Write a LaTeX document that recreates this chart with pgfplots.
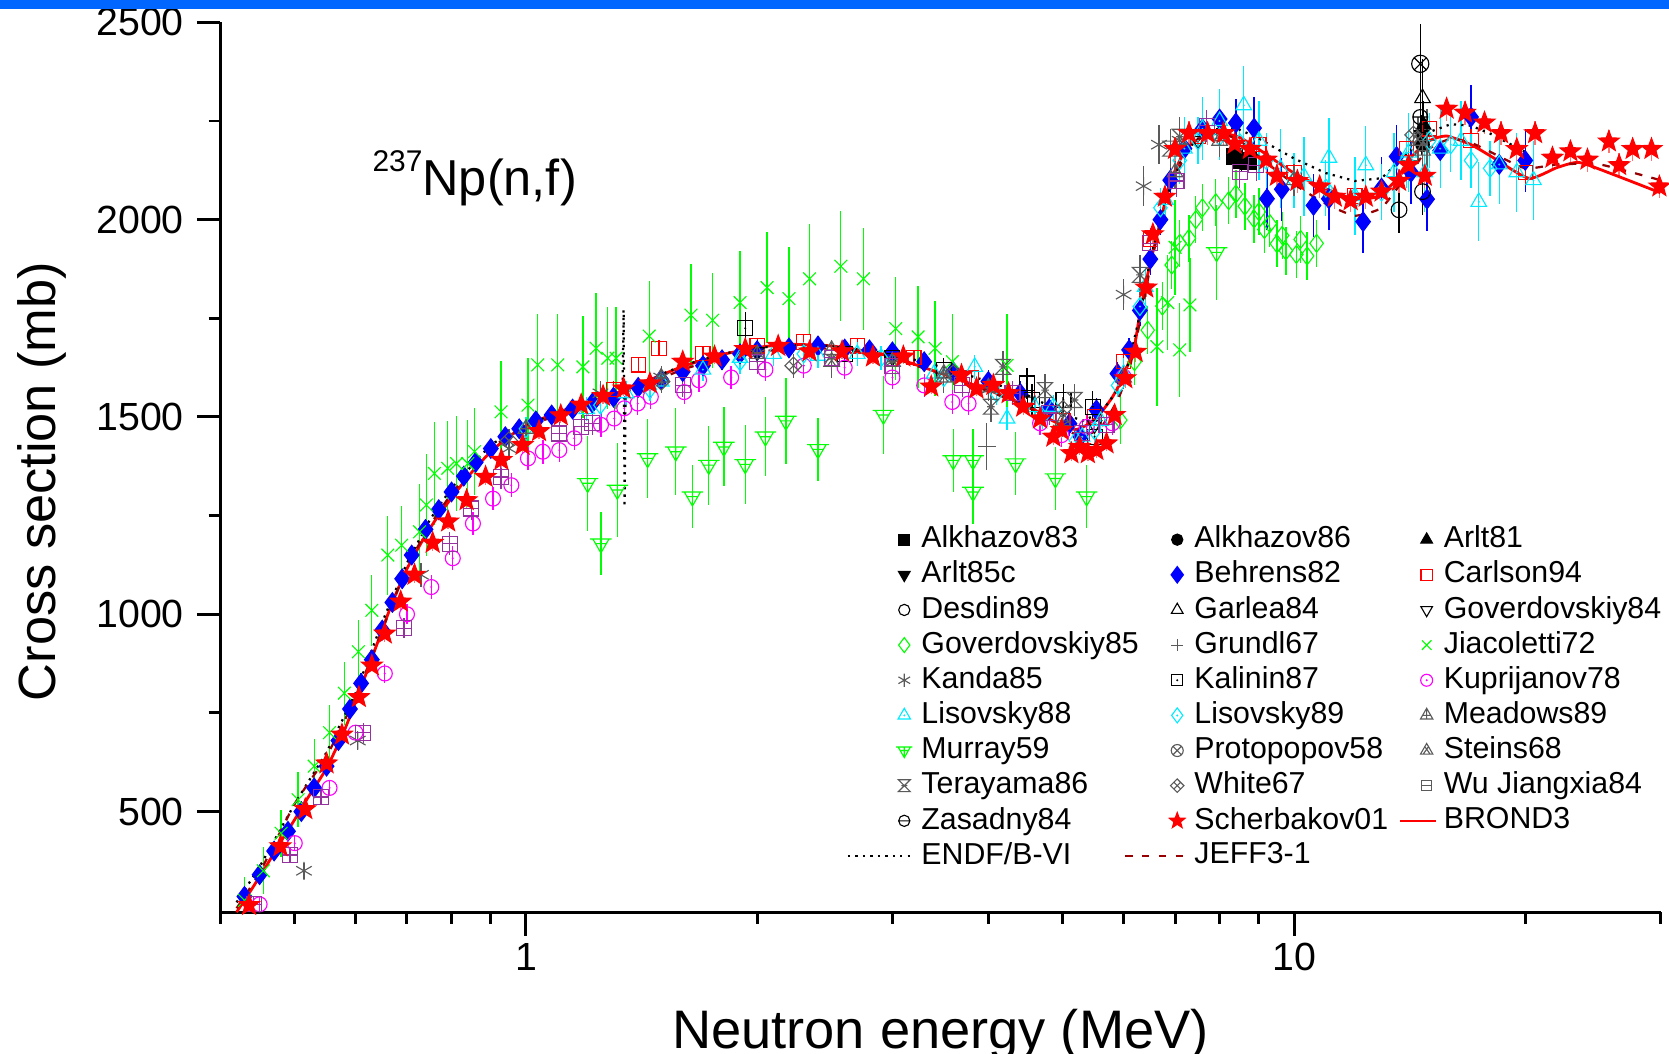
\documentclass[border=0pt]{standalone}
\usepackage{fontspec}
\setmainfont{Liberation Sans}
\usepackage{pgfplots}
\pgfplotsset{compat=1.18}
\usetikzlibrary{plotmarks}

\definecolor{mygreen}{RGB}{0,255,0}
\definecolor{mycyan}{RGB}{0,235,255}
\definecolor{mymag}{RGB}{255,0,255}
\definecolor{myblue}{RGB}{0,0,255}
\definecolor{myred}{RGB}{255,0,0}
\definecolor{mypurple}{RGB}{150,50,160}
\definecolor{mygray}{RGB}{90,90,90}
\definecolor{jeffc}{RGB}{150,0,0}
\definecolor{topblue}{RGB}{0,102,255}

\pgfdeclareplotmark{fstar}{%
  \pgfpathmoveto{\pgfqpointpolar{90}{1\pgfplotmarksize}}%
  \pgfpathlineto{\pgfqpointpolar{126}{0.42\pgfplotmarksize}}%
  \pgfpathlineto{\pgfqpointpolar{162}{1\pgfplotmarksize}}%
  \pgfpathlineto{\pgfqpointpolar{198}{0.42\pgfplotmarksize}}%
  \pgfpathlineto{\pgfqpointpolar{234}{1\pgfplotmarksize}}%
  \pgfpathlineto{\pgfqpointpolar{270}{0.42\pgfplotmarksize}}%
  \pgfpathlineto{\pgfqpointpolar{306}{1\pgfplotmarksize}}%
  \pgfpathlineto{\pgfqpointpolar{342}{0.42\pgfplotmarksize}}%
  \pgfpathlineto{\pgfqpointpolar{18}{1\pgfplotmarksize}}%
  \pgfpathlineto{\pgfqpointpolar{54}{0.42\pgfplotmarksize}}%
  \pgfpathclose\pgfusepathqfillstroke}
\pgfdeclareplotmark{odot}{%
  \pgfpathcircle{\pgfpointorigin}{1\pgfplotmarksize}\pgfusepathqstroke
  \pgfpathcircle{\pgfpointorigin}{0.3pt}\pgfusepathqfill}
\pgfdeclareplotmark{ominus}{%
  \pgfpathcircle{\pgfpointorigin}{1\pgfplotmarksize}%
  \pgfpathmoveto{\pgfqpoint{-1\pgfplotmarksize}{0pt}}\pgfpathlineto{\pgfqpoint{1\pgfplotmarksize}{0pt}}%
  \pgfusepathqstroke}
\pgfdeclareplotmark{sqdot}{%
  \pgfpathrectangle{\pgfpoint{-1\pgfplotmarksize}{-1\pgfplotmarksize}}{\pgfpoint{2\pgfplotmarksize}{2\pgfplotmarksize}}\pgfusepathqstroke
  \pgfpathcircle{\pgfpointorigin}{0.3pt}\pgfusepathqfill}
\pgfdeclareplotmark{sqminus}{%
  \pgfpathrectangle{\pgfpoint{-1\pgfplotmarksize}{-1\pgfplotmarksize}}{\pgfpoint{2\pgfplotmarksize}{2\pgfplotmarksize}}%
  \pgfpathmoveto{\pgfqpoint{-1\pgfplotmarksize}{0pt}}\pgfpathlineto{\pgfqpoint{1\pgfplotmarksize}{0pt}}%
  \pgfusepathqstroke}
\pgfdeclareplotmark{tridot}{%
  \pgfpathmoveto{\pgfqpointpolar{90}{1\pgfplotmarksize}}%
  \pgfpathlineto{\pgfqpointpolar{-30}{1\pgfplotmarksize}}%
  \pgfpathlineto{\pgfqpointpolar{210}{1\pgfplotmarksize}}%
  \pgfpathclose\pgfusepathqstroke
  \pgfpathcircle{\pgfpointorigin}{0.3pt}\pgfusepathqfill}
\pgfdeclareplotmark{dtri}{%
  \pgfpathmoveto{\pgfqpointpolar{270}{1\pgfplotmarksize}}%
  \pgfpathlineto{\pgfqpointpolar{30}{1\pgfplotmarksize}}%
  \pgfpathlineto{\pgfqpointpolar{150}{1\pgfplotmarksize}}%
  \pgfpathclose\pgfusepathqstroke}
\pgfdeclareplotmark{dtri*}{%
  \pgfpathmoveto{\pgfqpointpolar{270}{1\pgfplotmarksize}}%
  \pgfpathlineto{\pgfqpointpolar{30}{1\pgfplotmarksize}}%
  \pgfpathlineto{\pgfqpointpolar{150}{1\pgfplotmarksize}}%
  \pgfpathclose\pgfusepathqfillstroke}
\pgfdeclareplotmark{dtribar}{%
  \pgfpathmoveto{\pgfqpointpolar{270}{1\pgfplotmarksize}}%
  \pgfpathlineto{\pgfqpointpolar{30}{1\pgfplotmarksize}}%
  \pgfpathlineto{\pgfqpointpolar{150}{1\pgfplotmarksize}}%
  \pgfpathclose
  \pgfpathmoveto{\pgfqpoint{-1.15\pgfplotmarksize}{0.5\pgfplotmarksize}}\pgfpathlineto{\pgfqpoint{1.15\pgfplotmarksize}{0.5\pgfplotmarksize}}%
  \pgfpathmoveto{\pgfqpoint{-0.5\pgfplotmarksize}{0pt}}\pgfpathlineto{\pgfqpoint{0.5\pgfplotmarksize}{0pt}}%
  \pgfpathmoveto{\pgfqpoint{0pt}{0.5\pgfplotmarksize}}\pgfpathlineto{\pgfqpoint{0pt}{-1\pgfplotmarksize}}%
  \pgfusepathqstroke}
\pgfdeclareplotmark{diamdot}{%
  \pgfpathmoveto{\pgfqpoint{0pt}{1\pgfplotmarksize}}%
  \pgfpathlineto{\pgfqpoint{0.75\pgfplotmarksize}{0pt}}%
  \pgfpathlineto{\pgfqpoint{0pt}{-1\pgfplotmarksize}}%
  \pgfpathlineto{\pgfqpoint{-0.75\pgfplotmarksize}{0pt}}%
  \pgfpathclose\pgfusepathqstroke
  \pgfpathcircle{\pgfpointorigin}{0.3pt}\pgfusepathqfill}
\pgfdeclareplotmark{triplus}{%
  \pgfpathmoveto{\pgfqpointpolar{90}{1\pgfplotmarksize}}%
  \pgfpathlineto{\pgfqpointpolar{-30}{1\pgfplotmarksize}}%
  \pgfpathlineto{\pgfqpointpolar{210}{1\pgfplotmarksize}}%
  \pgfpathclose
  \pgfpathmoveto{\pgfqpoint{0pt}{1\pgfplotmarksize}}\pgfpathlineto{\pgfqpoint{0pt}{-0.5\pgfplotmarksize}}%
  \pgfpathmoveto{\pgfqpoint{-0.55\pgfplotmarksize}{0pt}}\pgfpathlineto{\pgfqpoint{0.55\pgfplotmarksize}{0pt}}%
  \pgfusepathqstroke}
\pgfdeclareplotmark{trix}{%
  \pgfpathmoveto{\pgfqpointpolar{90}{1\pgfplotmarksize}}%
  \pgfpathlineto{\pgfqpointpolar{-30}{1\pgfplotmarksize}}%
  \pgfpathlineto{\pgfqpointpolar{210}{1\pgfplotmarksize}}%
  \pgfpathclose
  \pgfpathmoveto{\pgfqpoint{-0.45\pgfplotmarksize}{-0.45\pgfplotmarksize}}\pgfpathlineto{\pgfqpoint{0.3\pgfplotmarksize}{0.6\pgfplotmarksize}}%
  \pgfpathmoveto{\pgfqpoint{0.45\pgfplotmarksize}{-0.45\pgfplotmarksize}}\pgfpathlineto{\pgfqpoint{-0.3\pgfplotmarksize}{0.6\pgfplotmarksize}}%
  \pgfusepathqstroke}
\pgfdeclareplotmark{hourglass}{%
  \pgfpathmoveto{\pgfqpoint{-1\pgfplotmarksize}{1\pgfplotmarksize}}%
  \pgfpathlineto{\pgfqpoint{1\pgfplotmarksize}{1\pgfplotmarksize}}%
  \pgfpathlineto{\pgfqpoint{-1\pgfplotmarksize}{-1\pgfplotmarksize}}%
  \pgfpathlineto{\pgfqpoint{1\pgfplotmarksize}{-1\pgfplotmarksize}}%
  \pgfpathclose
  \pgfpathmoveto{\pgfqpoint{-0.5\pgfplotmarksize}{0pt}}\pgfpathlineto{\pgfqpoint{0.5\pgfplotmarksize}{0pt}}%
  \pgfusepathqstroke}
\pgfdeclareplotmark{diamx}{%
  \pgfpathmoveto{\pgfqpoint{0pt}{1\pgfplotmarksize}}%
  \pgfpathlineto{\pgfqpoint{1\pgfplotmarksize}{0pt}}%
  \pgfpathlineto{\pgfqpoint{0pt}{-1\pgfplotmarksize}}%
  \pgfpathlineto{\pgfqpoint{-1\pgfplotmarksize}{0pt}}%
  \pgfpathclose
  \pgfpathmoveto{\pgfqpoint{-0.5\pgfplotmarksize}{-0.5\pgfplotmarksize}}\pgfpathlineto{\pgfqpoint{0.5\pgfplotmarksize}{0.5\pgfplotmarksize}}%
  \pgfpathmoveto{\pgfqpoint{-0.5\pgfplotmarksize}{0.5\pgfplotmarksize}}\pgfpathlineto{\pgfqpoint{0.5\pgfplotmarksize}{-0.5\pgfplotmarksize}}%
  \pgfusepathqstroke}

\pgfplotsset{
  expt/.style={only marks, line width=0.3pt, forget plot,
    error bars/y dir=both, error bars/y explicit, error bars/error mark=none,
    error bars/error bar style={line width=0.35pt}},
  lm/.style={only marks, line width=0.3pt},
  markleg/.style={legend image code/.code={\draw[mark repeat=2,mark phase=2,##1] plot coordinates {(0cm,0cm) (0.13cm,0cm) (0.26cm,0cm)};}},
  brondleg/.style={legend image code/.code={\path (0cm,0cm) (0.26cm,0cm); \draw[##1,overlay] (-0.12cm,0cm) -- (0.22cm,0cm);}},
  endfleg/.style={legend image code/.code={\path (0cm,0cm) (0.26cm,0cm); \draw[##1,overlay] (-0.4cm,0cm) -- (0.22cm,0cm);}},
  jeffleg/.style={legend image code/.code={\path (0cm,0cm) (0.26cm,0cm); \draw[##1,overlay] (-0.36cm,0cm) -- (0.22cm,0cm);}},
}

\begin{document}
\begin{tikzpicture}
\begin{axis}[
  at={(0,0)}, anchor=south west,
  scale only axis, width=135.3mm, height=83.6mm,
  xmode=log, xmin=0.4, xmax=30, ymin=245, ymax=2500,
  axis x line*=bottom, axis y line*=left,
  axis line style={-, line width=0.8pt},
  every tick/.style={black, line width=0.8pt},
  tick align=outside,
  major tick length=2.2mm, minor tick length=1.1mm,
  xtick={1,10}, xticklabels={1,10},
  minor xtick={0.4,0.5,0.6,0.7,0.8,0.9,2,3,4,5,6,7,8,9,20,30},
  ytick={500,1000,1500,2000,2500},
  minor ytick={750,1250,1750,2250},
  tick label style={font=\fontsize{10.5}{12}\selectfont},
  xticklabel style={yshift=0.5mm},
  /pgf/number format/assume math mode=true,
  /pgf/number format/1000 sep={},
  xlabel={Neutron energy (MeV)}, ylabel={Cross section (mb)},
  xlabel style={font=\fontsize{14.5}{16}\selectfont, at={(axis description cs:0.5,-0.1531)}, anchor=base},
  ylabel style={font=\fontsize{14}{16}\selectfont, at={(axis description cs:-0.1146,0.484)}, anchor=base},
  legend columns=3, legend cell align=left,
  markleg,
  legend style={at={(axis description cs:0.464,0.4375)}, anchor=north west, draw=none, fill=none,
    font=\fontsize{8.1}{9}\selectfont, inner sep=0pt, row sep=0.29mm,
    nodes={inner sep=0.6pt, text depth=0.15em},
    /tikz/every even column/.append style={column sep=2mm}},
]

% Alkhazov83
\addplot[black, mark=square*, mark size=2.2pt, expt] table[row sep=\\, y error index=2] {
8.37 2160 30\\ 8.55 2150 30\\ 8.72 2148 30\\};
% Alkhazov86
\addplot[black, mark=*, mark size=1.8pt, expt] table[row sep=\\, y error index=2] {
14.7 2190 40\\};
% Arlt81
\addplot[black, mark=triangle*, mark size=2.2pt, expt] table[row sep=\\, y error index=2] {
14.75 2240 60\\};
% Arlt85c
\addplot[black, mark=dtri*, mark size=2.2pt, expt] table[row sep=\\, y error index=2] {
14.65 2215 50\\};
% Behrens82
\addplot[myblue, mark=diamond*, mark size=2.6pt, expt] table[row sep=\\, y error index=2] {
0.43 285 20\\ 0.45 340 20\\ 0.47 400 20\\ 0.49 450 20\\ 0.51 500 20\\ 0.53 560 20\\
0.55 615 20\\ 0.57 680 20\\ 0.59 760 25\\ 0.61 825 25\\ 0.63 885 25\\ 0.65 960 25\\
0.67 1030 25\\ 0.69 1090 25\\ 0.71 1150 25\\ 0.74 1215 25\\ 0.77 1265 25\\ 0.80 1310 25\\
0.83 1350 25\\ 0.86 1385 25\\ 0.90 1420 25\\ 0.94 1450 25\\ 0.98 1470 25\\ 1.03 1490 25\\
1.08 1505 25\\ 1.15 1520 25\\ 1.22 1535 25\\ 1.30 1550 25\\ 1.40 1575 25\\ 1.50 1595 25\\
1.60 1615 25\\ 1.70 1630 25\\ 1.80 1645 25\\ 1.90 1660 25\\ 2.00 1668 25\\ 2.20 1675 25\\
2.40 1680 25\\ 2.60 1672 25\\ 2.80 1670 25\\ 3.00 1665 25\\ 3.30 1640 25\\ 3.60 1615 25\\
4.00 1590 30\\ 4.40 1560 30\\ 4.80 1520 30\\ 5.10 1483 30\\ 5.27 1450 30\\ 5.53 1518 30\\
5.89 1610 30\\ 6.10 1670 30\\ 6.30 1770 40\\ 6.50 1900 40\\ 6.70 2000 40\\ 6.90 2100 40\\
7.20 2180 50\\ 7.60 2230 50\\ 8.00 2255 50\\ 8.40 2245 60\\ 8.87 2232 80\\ 9.22 2053 80\\
9.64 2077 80\\ 10.6 2036 80\\ 11.1 2053 80\\ 12.3 1995 80\\ 13.0 2080 80\\ 13.6 2160 80\\
14.2 2120 80\\ 14.9 2052 80\\ 15.5 2175 80\\ 17.0 2260 80\\ 18.5 2140 80\\ 20.0 2150 80\\};
% Carlson94
\addplot[myred, mark=square, mark size=1.9pt, expt] table[row sep=\\, y error index=2] {
1.3 1570 20\\ 1.4 1632 20\\ 1.49 1674 20\\ 1.7 1660 20\\ 2.0 1680 20\\ 2.3 1690 20\\
2.7 1680 20\\ 3.2 1650 20\\ 3.8 1600 20\\ 4.5 1550 20\\ 5.0 1490 20\\ 5.5 1500 20\\
6.0 1640 25\\ 6.5 1950 30\\ 7.5 2210 30\\ 9.0 2190 30\\ 10.0 2120 30\\ 12.0 2060 30\\
14.0 2180 30\\ 15.0 2230 30\\ 17.0 2200 30\\ 20.0 2120 30\\};
% Desdin89
\addplot[black, mark=o, mark size=2.1pt, expt] table[row sep=\\, y error index=2] {
13.7 2025 60\\ 14.7 2071 60\\};
% Garlea84
\addplot[black, mark=triangle, mark size=2.4pt, expt] table[row sep=\\, y error index=2] {
14.7 2308 100\\};
% Goverdovskiy84
\addplot[black, mark=dtri, mark size=2.2pt, expt] table[row sep=\\, y error index=2] {
2.0 1665 30\\ 3.0 1650 30\\ 4.5 1540 30\\ 5.5 1480 30\\ 7.5 2200 40\\ 14.7 2210 50\\};
% Goverdovskiy85
\addplot[mygreen, mark=diamond, mark size=2.4pt, expt] table[row sep=\\, y error index=2] {
5.94 1492 60\\ 6.2 1640 60\\ 6.45 1720 60\\ 6.74 1781 60\\ 6.93 1885 60\\ 7.1 1940 60\\
7.3 1953 60\\ 7.45 2000 60\\ 7.6 2030 60\\ 7.91 2043 60\\ 8.22 2048 60\\ 8.4 2065 60\\
8.63 2034 60\\ 8.87 2002 60\\ 9.0 2020 60\\ 9.15 1975 60\\ 9.3 1990 60\\ 9.5 1939 60\\
9.65 1960 60\\ 9.76 1921 60\\ 10.07 1912 60\\ 10.2 1950 60\\ 10.4 1908 60\\ 10.7 1940 60\\};
% Grundl67
\addplot[mygray, mark=+, mark size=2.4pt, expt] table[row sep=\\, y error index=2] {
3.98 1425 60\\ 14.1 2150 80\\ 14.9 2200 80\\};
% Jiacoletti72
\addplot[mygreen, mark=x, mark size=2.4pt, expt] table[row sep=\\, y error index=2] {
0.43 275 60\\ 0.455 350 60\\ 0.48 445 60\\ 0.505 530 70\\ 0.53 615 70\\ 0.555 700 70\\
0.58 800 80\\ 0.605 905 80\\ 0.63 1010 90\\ 0.661 1150 100\\ 0.689 1175 100\\ 0.727 1209 120\\
0.742 1277 130\\ 0.76 1357 130\\ 0.791 1370 120\\ 0.812 1382 120\\ 0.84 1382 110\\ 0.857 1412 110\\
0.928 1513 130\\ 1.006 1530 120\\ 1.036 1632 130\\ 1.1 1632 130\\ 1.186 1627 130\\ 1.234 1674 140\\
1.278 1649 130\\ 1.31 1649 130\\ 1.447 1705 140\\ 1.64 1758 130\\ 1.75 1745 120\\ 1.9 1790 130\\
2.06 1828 140\\ 2.2 1800 130\\ 2.34 1850 140\\ 2.57 1882 140\\ 2.75 1850 130\\ 3.03 1724 130\\
3.24 1703 130\\ 3.41 1674 120\\ 3.59 1640 120\\ 4.23 1631 130\\ 6.63 1678 150\\ 6.85 1790 120\\
7.0 1930 120\\ 7.1 1670 120\\ 7.32 1784 120\\};
% Kanda85
\addplot[mygray, mark=asterisk, mark size=2.4pt, expt] table[row sep=\\, y error index=2] {
0.514 350 20\\ 0.604 680 25\\ 0.73 1100 30\\ 0.95 1420 30\\ 1.25 1560 30\\ 1.5 1600 30\\
2.0 1660 30\\ 2.5 1650 30\\ 3.0 1640 30\\ 4.0 1570 30\\ 5.0 1480 30\\ 6.0 1810 40\\
6.37 2085 50\\ 6.67 2190 50\\ 7.1 2200 50\\ 8.0 2210 50\\};
% Kalinin87
\addplot[black, mark=sqdot, mark size=2.0pt, expt] table[row sep=\\, y error index=2] {
1.93 1725 40\\ 2.6 1660 30\\ 3.0 1650 30\\ 3.5 1620 30\\ 4.49 1585 40\\ 4.56 1543 40\\
5.01 1543 40\\ 5.47 1526 40\\ 5.5 1450 40\\};
% Kuprijanov78
\addplot[mymag, mark=odot, mark size=2.0pt, expt] table[row sep=\\, y error index=2] {
0.45 265 20\\ 0.5 420 20\\ 0.555 560 20\\ 0.6 700 20\\ 0.655 850 25\\ 0.70 1000 25\\
0.753 1069 30\\ 0.803 1142 30\\ 0.853 1230 30\\ 0.906 1293 30\\ 0.957 1327 30\\ 1.006 1395 30\\
1.052 1412 30\\ 1.105 1416 30\\ 1.156 1446 30\\ 1.252 1480 30\\ 1.303 1496 30\\ 1.343 1522 30\\
1.398 1534 30\\ 1.454 1551 30\\ 1.607 1563 30\\ 1.68 1593 30\\ 1.85 1600 30\\ 2.05 1620 30\\
2.3 1630 30\\ 2.6 1625 30\\ 3.0 1600 30\\ 3.3 1580 30\\ 3.59 1538 30\\ 3.77 1534 30\\
4.67 1484 30\\ 4.98 1454 30\\ 5.37 1475 30\\ 5.8 1484 30\\ 6.0 1602 30\\};
% Lisovsky88
\addplot[mycyan, mark=tridot, mark size=2.4pt, expt] table[row sep=\\, y error index=2] {
1.2 1520 30\\ 1.35 1560 30\\ 1.5 1590 30\\ 1.7 1620 30\\ 1.9 1650 30\\ 2.1 1660 30\\
2.4 1655 30\\ 2.7 1660 30\\ 3.0 1640 30\\ 3.4 1610 30\\ 3.84 1627 30\\ 4.23 1496 30\\
4.6 1525 30\\ 4.86 1526 30\\ 5.3 1450 30\\ 5.6 1490 30\\ 6.0 1610 40\\ 6.4 1830 50\\
6.8 2050 60\\ 7.2 2180 80\\ 7.6 2230 80\\ 8.0 2250 80\\ 8.6 2290 100\\ 9.0 2200 100\\
9.6 2130 100\\ 10.3 2110 100\\ 11.1 2157 100\\ 12.0 2060 100\\ 12.4 2138 100\\ 13.5 2120 100\\
14.1 2170 100\\ 14.8 2120 100\\ 15.5 2180 100\\ 16.5 2200 100\\ 17.4 2045 100\\ 18.5 2140 100\\
19.5 2120 100\\ 20.5 2100 100\\};
% Lisovsky89
\addplot[mycyan, mark=diamdot, mark size=2.4pt, expt] table[row sep=\\, y error index=2] {
1.0 1470 30\\ 1.25 1530 30\\ 1.45 1570 30\\ 1.9 1640 30\\ 2.3 1660 30\\ 2.9 1650 30\\
3.5 1600 30\\ 4.1 1560 30\\ 4.7 1500 30\\ 5.2 1440 30\\ 5.5 1465 30\\ 5.9 1580 30\\
6.3 1780 40\\ 6.7 2030 50\\ 7.1 2150 60\\ 7.5 2200 60\\ 8.0 2210 60\\ 8.5 2195 60\\
9.2 2150 70\\ 10.0 2100 70\\ 11.0 2080 70\\ 12.0 2050 70\\ 13.0 2070 70\\ 14.0 2150 70\\
15.0 2200 70\\ 16.0 2190 70\\ 17.0 2150 70\\ 18.0 2130 70\\};
% Meadows89
\addplot[mygray, mark=triplus, mark size=2.4pt, expt] table[row sep=\\, y error index=2] {
1.0 1470 25\\ 1.5 1600 25\\ 2.0 1660 25\\ 2.5 1670 25\\ 3.0 1640 25\\ 3.5 1610 25\\
4.0 1575 25\\ 5.0 1490 25\\ 6.0 1600 30\\ 7.0 2120 40\\ 8.0 2200 40\\ 10.0 2100 40\\
14.7 2175 50\\};
% Murray59
\addplot[mygreen, mark=dtribar, mark size=2.5pt, expt] table[row sep=\\, y error index=2] {
1.203 1332 120\\ 1.252 1179 80\\ 1.315 1315 120\\ 1.44 1395 100\\ 1.567 1412 110\\ 1.647 1298 80\\
1.73 1378 100\\ 1.81 1424 100\\ 1.93 1380 100\\ 2.05 1450 100\\ 2.18 1490 110\\ 2.4 1418 80\\
2.92 1505 100\\ 3.6 1390 80\\ 3.82 1390 80\\ 3.82 1310 80\\ 4.34 1382 80\\ 4.89 1344 80\\
5.37 1298 80\\ 7.93 1917 120\\};
% Protopopov58
\addplot[black, mark=otimes, mark size=2.3pt, expt] table[row sep=\\, y error index=2] {
14.6 2395 100\\};
% Steins68
\addplot[mygray, mark=trix, mark size=2.4pt, expt] table[row sep=\\, y error index=2] {
2.5 1640 40\\ 3.5 1600 40\\ 14.5 2200 60\\};
% Terayama86
\addplot[mygray, mark=hourglass, mark size=2.0pt, expt] table[row sep=\\, y error index=2] {
4.03 1526 40\\ 4.18 1627 40\\ 4.74 1568 40\\ 5.18 1543 40\\ 6.3 1860 50\\ 6.9 2180 50\\
7.1 2210 50\\};
% White67
\addplot[mygray, mark=diamx, mark size=2.3pt, expt] table[row sep=\\, y error index=2] {
0.95 1440 30\\ 1.5 1590 30\\ 2.23 1630 30\\ 3.6 1610 30\\ 5.0 1520 30\\ 14.3 2215 50\\};
% Wu Jiangxia84
\addplot[mypurple, mark=sqminus, mark size=2.0pt, expt] table[row sep=\\, y error index=2] {
0.442 265 20\\ 0.493 390 20\\ 0.541 537 20\\ 0.614 700 25\\ 0.694 965 25\\ 0.796 1179 30\\
0.849 1268 30\\ 0.928 1348 30\\ 1.105 1458 30\\ 1.18 1475 30\\ 1.22 1484 30\\ 1.6 1580 30\\
2.0 1640 30\\ 2.5 1650 30\\ 3.0 1630 30\\ 3.7 1580 30\\ 4.3 1560 30\\ 4.8 1510 30\\
5.3 1460 30\\ 5.7 1480 30\\ 6.5 1940 40\\ 7.03 2098 40\\ 7.7 2238 40\\ 8.5 2121 40\\
8.93 2138 40\\};
% Zasadny84
\addplot[black, mark=ominus, mark size=2.0pt, expt] table[row sep=\\, y error index=2] {
14.6 2260 50\\};
% Scherbakov01
\addplot[myred, mark=fstar, mark size=2.9pt, expt, error bars/error bar style={myred!55, line width=0.35pt}] table[row sep=\\, y error index=2] {
0.436 263 15\\ 0.479 412 15\\ 0.516 506 15\\ 0.55 622 15\\ 0.576 695 15\\ 0.606 790 15\\
0.63 870 15\\ 0.655 951 20\\ 0.687 1032 20\\ 0.716 1100 20\\ 0.756 1181 20\\ 0.792 1235 20\\
0.837 1289 20\\ 0.886 1348 20\\ 0.929 1391 20\\ 0.99 1429 20\\ 1.04 1464 20\\ 1.11 1504 20\\
1.18 1531 20\\ 1.26 1553 20\\ 1.34 1572 20\\ 1.45 1585 20\\ 1.6 1640 20\\ 1.76 1653 20\\
1.93 1672 20\\ 2.13 1680 20\\ 2.34 1666 20\\ 2.58 1666 20\\ 2.83 1653 20\\ 3.10 1653 20\\
3.37 1577 20\\ 3.69 1606 20\\ 3.86 1572 20\\ 4.06 1581 20\\ 4.25 1560 20\\ 4.44 1526 20\\
4.67 1496 20\\ 4.86 1450 20\\ 4.98 1467 20\\ 5.13 1408 20\\ 5.26 1424 20\\ 5.39 1408 20\\
5.53 1416 20\\ 5.7 1433 20\\ 5.84 1505 20\\ 6.03 1598 25\\ 6.22 1665 25\\ 6.42 1828 25\\
6.55 1963 25\\ 6.79 2058 25\\ 7.0 2179 30\\ 7.3 2219 30\\ 7.72 2219 30\\ 8.1 2219 30\\
8.37 2192 30\\ 8.76 2179 30\\ 9.2 2152 30\\ 9.5 2111 30\\ 10.1 2098 30\\ 10.8 2084 30\\
11.3 2058 30\\ 11.85 2049 30\\ 12.4 2058 30\\ 13.0 2071 30\\ 13.7 2098 30\\ 14.1 2138 30\\
14.8 2111 30\\ 15.8 2281 30\\ 16.7 2271 30\\ 17.7 2246 30\\ 18.6 2219 30\\ 19.5 2179 30\\
20.6 2219 30\\ 21.7 2157 30\\ 22.9 2173 30\\ 24.1 2152 30\\ 25.7 2198 30\\ 26.5 2138 30\\
27.6 2179 30\\ 29.2 2179 30\\ 29.9 2084 30\\};
% BROND3
\addplot[myred, line width=0.75pt, smooth, tension=0.35, mark=none, forget plot]
  table[row sep=\\] {
0.42 245\\ 0.44 305\\ 0.46 365\\ 0.48 425\\ 0.50 480\\ 0.52 535\\ 0.55 610\\ 0.58 705\\
0.61 815\\ 0.64 925\\ 0.67 1030\\ 0.70 1115\\ 0.73 1180\\ 0.76 1235\\ 0.80 1295\\ 0.85 1360\\
0.90 1412\\ 0.95 1450\\ 1.00 1478\\ 1.10 1512\\ 1.20 1535\\ 1.30 1558\\ 1.40 1582\\ 1.60 1628\\
1.80 1658\\ 2.00 1676\\ 2.20 1684\\ 2.50 1680\\ 2.80 1665\\ 3.00 1652\\ 3.50 1608\\ 4.00 1568\\
4.50 1528\\ 4.80 1495\\ 5.00 1478\\ 5.20 1468\\ 5.40 1482\\ 5.60 1510\\ 5.80 1550\\ 5.95 1590\\
6.10 1640\\ 6.20 1680\\ 6.31 1770\\ 6.48 1880\\ 6.69 1990\\ 6.90 2095\\ 7.23 2178\\ 7.70 2218\\
8.00 2222\\ 8.50 2208\\ 9.00 2178\\ 10.0 2118\\ 11.0 2078\\ 12.0 2052\\ 12.8 2058\\ 13.5 2095\\
14.2 2158\\ 15.0 2200\\ 15.8 2212\\ 17.0 2190\\ 18.0 2162\\ 20.2 2105\\ 22.0 2132\\ 23.5 2145\\
26.0 2115\\ 30.0 2068\\};
% ENDF/B-VI
\addplot[black, line width=0.6pt, dash pattern=on 0.6pt off 1.4pt, mark=none, forget plot]
  table[row sep=\\] {
0.42 270\\ 0.45 360\\ 0.5 520\\ 0.55 650\\ 0.6 800\\ 0.65 980\\ 0.7 1130\\ 0.75 1240\\
0.8 1320\\ 0.9 1430\\ 1.0 1480\\ 1.1 1510\\ 1.2 1530\\ 1.3 1555\\ 1.336 1565\\ 1.340 1771\\
1.344 1272\\ 1.348 1570\\ 1.4 1585\\ 1.6 1630\\ 1.8 1660\\ 2.0 1675\\ 2.2 1682\\ 2.5 1680\\
3.0 1660\\ 3.5 1625\\ 4.0 1590\\ 4.5 1555\\ 5.0 1510\\ 5.3 1490\\ 5.6 1510\\ 5.9 1570\\
6.1 1640\\ 6.3 1760\\ 6.5 1900\\ 6.8 2050\\ 7.2 2170\\ 7.6 2215\\ 8.0 2232\\ 8.5 2228\\
9.0 2205\\ 10 2155\\ 11 2118\\ 12 2098\\ 13 2105\\ 14 2165\\ 15 2222\\ 16 2242\\
17 2238\\ 18 2218\\ 20 2172\\};
% JEFF3-1
\addplot[jeffc, line width=0.6pt, dash pattern=on 2pt off 2.5pt, mark=none, smooth, tension=0.3, forget plot]
  table[row sep=\\] {
0.42 255\\ 0.45 345\\ 0.5 520\\ 0.55 640\\ 0.6 790\\ 0.65 960\\ 0.7 1120\\ 0.75 1225\\
0.8 1305\\ 0.9 1420\\ 1.0 1475\\ 1.2 1530\\ 1.4 1575\\ 1.6 1620\\ 1.8 1650\\ 2.0 1665\\
2.3 1675\\ 2.6 1670\\ 3.0 1650\\ 3.5 1605\\ 4.0 1565\\ 4.5 1525\\ 5.0 1470\\ 5.3 1452\\
5.6 1472\\ 5.9 1545\\ 6.1 1620\\ 6.3 1740\\ 6.5 1880\\ 6.8 2040\\ 7.2 2160\\ 7.6 2210\\
8.0 2220\\ 8.5 2200\\ 9.0 2160\\ 10 2090\\ 11 2040\\ 12 2010\\ 13 2030\\ 14 2110\\
15 2180\\ 16 2205\\ 17 2195\\ 18 2172\\ 20 2130\\ 22 2140\\ 25 2140\\ 30 2100\\};

% legend
\addlegendimage{black, lm, mark=square*, mark size=1.5pt}\addlegendentry{Alkhazov83}
\addlegendimage{black, lm, mark=*, mark size=1.5pt}\addlegendentry{Alkhazov86}
\addlegendimage{black, lm, mark=triangle*, mark size=1.8pt}\addlegendentry{Arlt81}
\addlegendimage{black, lm, mark=dtri*, mark size=1.8pt}\addlegendentry{Arlt85c}
\addlegendimage{myblue, lm, mark=diamond*, mark size=2.2pt}\addlegendentry{Behrens82}
\addlegendimage{myred, lm, mark=square, mark size=1.5pt}\addlegendentry{Carlson94}
\addlegendimage{black, lm, mark=o, mark size=1.5pt}\addlegendentry{Desdin89}
\addlegendimage{black, lm, mark=triangle, mark size=1.8pt}\addlegendentry{Garlea84}
\addlegendimage{black, lm, mark=dtri, mark size=1.8pt}\addlegendentry{Goverdovskiy84}
\addlegendimage{mygreen, lm, mark=diamond, mark size=2pt}\addlegendentry{Goverdovskiy85}
\addlegendimage{mygray, lm, mark=+, mark size=1.6pt}\addlegendentry{Grundl67}
\addlegendimage{mygreen, lm, mark=x, mark size=1.8pt}\addlegendentry{Jiacoletti72}
\addlegendimage{mygray, lm, mark=asterisk, mark size=1.8pt}\addlegendentry{Kanda85}
\addlegendimage{black, lm, mark=sqdot, mark size=1.5pt}\addlegendentry{Kalinin87}
\addlegendimage{mymag, lm, mark=odot, mark size=1.6pt}\addlegendentry{Kuprijanov78}
\addlegendimage{mycyan, lm, mark=tridot, mark size=1.9pt}\addlegendentry{Lisovsky88}
\addlegendimage{mycyan, lm, mark=diamdot, mark size=2pt}\addlegendentry{Lisovsky89}
\addlegendimage{mygray, lm, mark=triplus, mark size=1.9pt}\addlegendentry{Meadows89}
\addlegendimage{mygreen, lm, mark=dtribar, mark size=1.9pt}\addlegendentry{Murray59}
\addlegendimage{mygray, lm, mark=otimes, mark size=1.6pt}\addlegendentry{Protopopov58}
\addlegendimage{mygray, lm, mark=trix, mark size=1.9pt}\addlegendentry{Steins68}
\addlegendimage{mygray, lm, mark=hourglass, mark size=1.6pt}\addlegendentry{Terayama86}
\addlegendimage{mygray, lm, mark=diamx, mark size=1.8pt}\addlegendentry{White67}
\addlegendimage{mygray, lm, mark=sqminus, mark size=1.4pt}\addlegendentry{Wu Jiangxia84}
\addlegendimage{black, lm, mark=ominus, mark size=1.5pt}\addlegendentry{Zasadny84}
\addlegendimage{myred, lm, mark=fstar, mark size=2.2pt}\addlegendentry{Scherbakov01}
\addlegendimage{myred, line width=0.6pt, mark=none, brondleg}\addlegendentry{BROND3}
\addlegendimage{black, line width=0.6pt, dash pattern=on 0.6pt off 1.4pt, mark=none, endfleg}\addlegendentry{ENDF/B-VI}
\addlegendimage{jeffc, line width=0.6pt, dash pattern=on 2pt off 2.5pt, mark=none, jeffleg}\addlegendentry{JEFF3-1}

\node[anchor=base west, inner sep=0pt, font=\fontsize{13.5}{15}\selectfont] at (axis cs:0.63,2060)
  {\raisebox{2.3mm}{\fontsize{8}{8}\selectfont 237}Np(n,f)};
\end{axis}
\fill[topblue] (-20.7mm,84.85mm) rectangle (136.1mm,85.7mm);
\pgfresetboundingbox
\path[use as bounding box] (-20.7mm,-13.3mm) rectangle (136.1mm,85.7mm);
\end{tikzpicture}
\end{document}
